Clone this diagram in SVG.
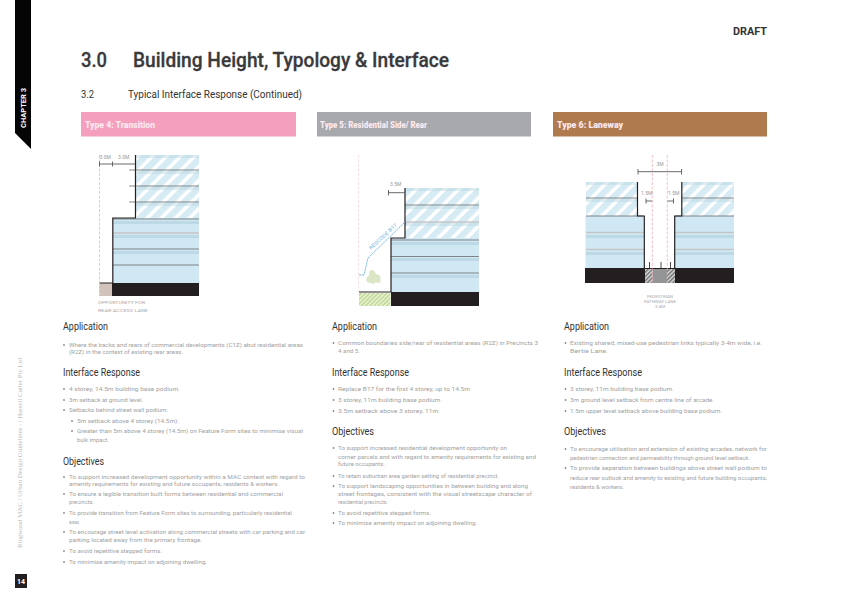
<svg xmlns="http://www.w3.org/2000/svg" width="848" height="600" viewBox="0 0 848 600">
<style>
text{font-family:"Roboto","Liberation Sans",sans-serif}
.b{font-size:5px;fill:#a2a2a2}
.h{font-size:10.5px;fill:#333}
.t{font-size:8.5px;font-weight:900;fill:#fde9f0}
.d{font-size:5px;fill:#999}
.s{font-size:4.4px;fill:#aaa}
.k{fill:none;stroke:#231f20;stroke-width:1.2}
.m{fill:none;stroke:#58595b;stroke-width:.9}
.f{stroke:#77787b;stroke-width:.9;fill:none}
.g{stroke:#c4c5c6;stroke-width:1.6;fill:none}
.p{stroke:#f5a5ad;stroke-width:.7;stroke-dasharray:3 1.5;fill:none}
.u{fill:url(#hatch)}
.l{fill:#cfe8f3}
.a{fill:#bed9e6}
.n{fill:#b9d6e3;opacity:.45}
.x{fill:#231f20}
.o{fill:#888}
</style>
<defs>
<pattern id="hatch" width="10" height="10" patternUnits="userSpaceOnUse" patternTransform="rotate(45)">
<rect width="10" height="10" fill="#fff"/><rect width="6.500" height="10" fill="#d6ebf3"/>
</pattern>
<pattern id="gh" width="3" height="3" patternUnits="userSpaceOnUse" patternTransform="rotate(45)">
<rect width="3" height="3" fill="#eef5dc"/><rect width="1.500" height="3" fill="#bcd58c"/>
</pattern>
<pattern id="dh" width="3" height="3" patternUnits="userSpaceOnUse" patternTransform="rotate(45)">
<rect width="3" height="3" fill="#ddd"/><rect width="1.500" height="3" fill="#6d6e70"/>
</pattern>
</defs>
<rect width="848" height="600" fill="#fff"/>

<g id="chapter-tab">
<polygon points="15,0 31,0 31,149 15,133" fill="#050505"/>
<text transform="translate(26,128) rotate(-90)" font-size="7" font-weight="700" fill="#fff" textLength="40" lengthAdjust="spacingAndGlyphs">CHAPTER 3</text>
</g>
<g id="page-header">
<text x="733" y="35" font-size="11" font-weight="700" fill="#333" textLength="34" lengthAdjust="spacingAndGlyphs">DRAFT</text>
<text x="81" y="66.500" font-size="20.500" font-weight="500" fill="#3a3a3c" stroke="#3a3a3c" stroke-width=".3" textLength="26" lengthAdjust="spacingAndGlyphs">3.0</text>
<text x="133" y="66.500" font-size="20.500" font-weight="500" fill="#3a3a3c" stroke="#3a3a3c" stroke-width=".3" textLength="316" lengthAdjust="spacingAndGlyphs">Building Height, Typology &amp; Interface</text>
<text x="81" y="98" font-size="10" fill="#333" textLength="13" lengthAdjust="spacingAndGlyphs">3.2</text>
<text x="128" y="98" font-size="10" fill="#333" textLength="174" lengthAdjust="spacingAndGlyphs">Typical Interface Response (Continued)</text>
</g>

<g id="type-4-header"><rect x="81" y="112" width="215" height="24.500" fill="#f49fbe"/><text class="t" x="85" y="127.500" textLength="70" lengthAdjust="spacingAndGlyphs">Type 4: Transition</text></g>
<g id="type-5-header"><rect x="317" y="112" width="214" height="24.500" fill="#a7a9ac"/><text class="t" x="320" y="127.500" textLength="107" lengthAdjust="spacingAndGlyphs">Type 5: Residential Side/ Rear</text></g>
<g id="type-6-header"><rect x="553" y="112" width="214" height="24.500" fill="#b07a4f"/><text class="t" x="557" y="127.500" textLength="66" lengthAdjust="spacingAndGlyphs">Type 6: Laneway</text></g>

<g id="section-type-4">
<rect class="u" x="136" y="155" width="63" height="63"/>
<rect class="n" x="136" y="155" width="63" height="3"/><rect class="n" x="136" y="171" width="63" height="3"/><rect class="n" x="136" y="187" width="63" height="3"/><rect class="n" x="136" y="203" width="63" height="3"/>
<rect class="l" x="113" y="218" width="86" height="65"/>
<rect class="a" x="113" y="221" width="86" height="3"/><rect class="a" x="113" y="235" width="86" height="3"/><rect class="a" x="113" y="251" width="86" height="3"/>
<path class="f" d="M129,170H199M129,186H199M129,202H199M113,219H199M113,249H199M113,265H199"/>
<path class="g" d="M113,233H199"/>
<rect x="99.500" y="283" width="13" height="13" fill="#d2c3ba"/>
<rect class="x" x="112" y="283" width="87" height="13"/>
<path class="k" d="M135.500,155V218H112.800V283H99.500"/>
<path class="p" d="M99.500,155V296"/>
<path class="m" d="M99.500,164H135M99.500,161.500V166.500M112.500,161.500V166.500"/>
<text class="d" x="99.500" y="158.500">3.0M</text><text class="d" x="118" y="158.500">3.0M</text>
<text class="s" x="98" y="303.500" textLength="47" lengthAdjust="spacingAndGlyphs">OPPORTUNITY FOR</text><text class="s" x="98" y="311.500" textLength="50" lengthAdjust="spacingAndGlyphs">REAR ACCESS LANE</text>
</g>

<g id="section-type-5">
<rect class="u" x="405" y="188" width="74" height="50"/>
<rect class="n" x="405" y="188" width="74" height="3"/><rect class="n" x="405" y="206" width="74" height="3"/><rect class="n" x="405" y="223" width="74" height="3"/>
<rect class="l" x="391" y="238" width="88" height="54"/>
<rect class="a" x="391" y="242" width="88" height="3"/><rect class="a" x="391" y="258" width="88" height="3"/><rect class="a" x="391" y="275" width="88" height="3"/>
<path class="f" d="M405,205H479M391,240H479M391,256.500H479M391,273H479"/>
<path class="g" d="M405,222H479"/>
<rect x="359" y="293" width="31.500" height="13" fill="url(#gh)"/>
<rect class="x" x="391" y="292" width="88" height="14"/>
<path class="k" d="M405,188V238H391V292H359"/>
<path class="p" d="M358.500,155V292" opacity=".5"/>
<path class="m" d="M388.500,190V195.500M388.500,192.700H405"/>
<text class="d" x="390" y="186">3.5M</text>
<path d="M359,275H364L368,258L405,222" fill="none" stroke="#4a9fd8" stroke-width=".7" stroke-dasharray="2.500 .6"/>
<text transform="translate(371,250) rotate(-43)" font-size="5" fill="#6fb3de" textLength="36" lengthAdjust="spacingAndGlyphs">RESCODE B17</text>
<g fill="#dbe6c6"><circle cx="373" cy="277" r="4.500"/><circle cx="369.500" cy="279.500" r="3.200"/><circle cx="377" cy="278" r="3.500"/><circle cx="372" cy="273" r="3"/><circle cx="378" cy="280.500" r="2.500"/><circle cx="373" cy="281" r="2.800"/></g>
</g>

<g id="section-type-6">
<rect class="u" x="586" y="182" width="51" height="34"/><rect class="u" x="682" y="182" width="52" height="34"/>
<rect class="n" x="586" y="182" width="51" height="3"/><rect class="n" x="682" y="182" width="52" height="3"/><rect class="n" x="586" y="199" width="51" height="3"/><rect class="n" x="682" y="199" width="52" height="3"/>
<rect class="l" x="585.500" y="216" width="58" height="52"/><rect class="l" x="675" y="216" width="59" height="52"/>
<rect class="a" x="586" y="235" width="58" height="3"/><rect class="a" x="675" y="235" width="59" height="3"/><rect class="a" x="586" y="252" width="58" height="3"/><rect class="a" x="675" y="252" width="59" height="3"/>
<path class="f" d="M586,198H637M682,198H734M586,216H643M675,216H734"/>
<path class="g" d="M586,232.500H644M675,232.500H734M586,249.500H644M675,249.500H734"/>
<rect class="x" x="585" y="268" width="149" height="15"/>
<rect x="645" y="269" width="8" height="14" fill="url(#dh)"/><rect x="653" y="269" width="14" height="14" fill="#949597"/><rect x="667" y="269" width="8" height="14" fill="url(#dh)"/>
<path class="k" d="M637.500,182V216H644.300V268M681.800,182V216H674.700V268"/>
<path d="M652.300,155V283M667.300,155V283" class="p"/>
<path class="m" d="M638,171.700H681.500M638,169V174.500M681.500,169V174.500M646,201H652M646,198.500V203.500M667.500,201H673.500M673.500,198.500V203.500"/>
<path d="M649.500,268V262M661,268V262M670.500,268V262" stroke="#333" stroke-width=".9" fill="none"/>
<text class="d" x="660" y="166" text-anchor="middle">3M</text>
<text class="d" x="641" y="195">1.5M</text><text class="d" x="668" y="195">1.5M</text>
<text class="s" x="660" y="297.500" text-anchor="middle">PEDESTRIAN</text><text class="s" x="660" y="302.500" text-anchor="middle">PATHWAY LANE</text><text class="s" x="660" y="308" text-anchor="middle">3-4M</text>
</g>

<g id="column-type-4">
<text class="h" x="63" y="330" textLength="45" lengthAdjust="spacingAndGlyphs">Application</text>
<text class="h" x="63" y="376" textLength="77" lengthAdjust="spacingAndGlyphs">Interface Response</text>
<text class="h" x="63" y="465" textLength="41" lengthAdjust="spacingAndGlyphs">Objectives</text>
<g class="o"><circle cx="64" cy="345" r=".9"/><circle cx="64" cy="389" r=".9"/><circle cx="64" cy="400" r=".9"/><circle cx="64" cy="410" r=".9"/><circle cx="72" cy="421" r=".9"/><circle cx="72" cy="431" r=".9"/><circle cx="64" cy="477" r=".9"/><circle cx="64" cy="494" r=".9"/><circle cx="64" cy="513" r=".9"/><circle cx="64" cy="532" r=".9"/><circle cx="64" cy="551" r=".9"/><circle cx="64" cy="562" r=".9"/></g>
<text class="b" x="69" y="346.500" textLength="234" lengthAdjust="spacingAndGlyphs">Where the backs and rears of commercial developments (C1Z) abut residential areas</text>
<text class="b" x="69" y="354" textLength="114" lengthAdjust="spacingAndGlyphs">(R2Z) in the context of existing rear areas.</text>
<text class="b" x="69" y="391" textLength="111" lengthAdjust="spacingAndGlyphs">4 storey, 14.5m building base podium.</text>
<text class="b" x="69" y="402" textLength="74" lengthAdjust="spacingAndGlyphs">3m setback at ground level.</text>
<text class="b" x="69" y="412" textLength="99" lengthAdjust="spacingAndGlyphs">Setbacks behind street wall podium:</text>
<text class="b" x="77" y="423" textLength="102" lengthAdjust="spacingAndGlyphs">5m setback above 4 storey (14.5m).</text>
<text class="b" x="77" y="433" textLength="226" lengthAdjust="spacingAndGlyphs">Greater than 5m above 4 storey (14.5m) on Feature Form sites to minimise visual</text>
<text class="b" x="77" y="441.500" textLength="32" lengthAdjust="spacingAndGlyphs">bulk impact.</text>
<text class="b" x="69" y="479" textLength="236" lengthAdjust="spacingAndGlyphs">To support increased development opportunity within a MAC context with regard to</text>
<text class="b" x="69" y="486" textLength="210" lengthAdjust="spacingAndGlyphs">amenity requirements for existing and future occupants, residents &amp; workers.</text>
<text class="b" x="69" y="496" textLength="214" lengthAdjust="spacingAndGlyphs">To ensure a legible transition built forms between residential and commercial</text>
<text class="b" x="69" y="504" textLength="25" lengthAdjust="spacingAndGlyphs">precincts.</text>
<text class="b" x="69" y="515" textLength="223" lengthAdjust="spacingAndGlyphs">To provide transition from Feature Form sites to surrounding, particularly residential</text>
<text class="b" x="69" y="524" textLength="11" lengthAdjust="spacingAndGlyphs">areas.</text>
<text class="b" x="69" y="534" textLength="236" lengthAdjust="spacingAndGlyphs">To encourage street level activation along commercial streets with car parking and car</text>
<text class="b" x="69" y="542" textLength="133" lengthAdjust="spacingAndGlyphs">parking located away from the primary frontage.</text>
<text class="b" x="69" y="553" textLength="93" lengthAdjust="spacingAndGlyphs">To avoid repetitive stepped forms.</text>
<text class="b" x="69" y="564" textLength="138" lengthAdjust="spacingAndGlyphs">To minimise amenity impact on adjoining dwelling.</text>
</g>

<g id="column-type-5">
<text class="h" x="332" y="330" textLength="45" lengthAdjust="spacingAndGlyphs">Application</text>
<text class="h" x="332" y="376" textLength="77" lengthAdjust="spacingAndGlyphs">Interface Response</text>
<text class="h" x="332" y="435" textLength="42" lengthAdjust="spacingAndGlyphs">Objectives</text>
<g class="o"><circle cx="333.500" cy="343" r=".9"/><circle cx="333.500" cy="389" r=".9"/><circle cx="333.500" cy="400" r=".9"/><circle cx="333.500" cy="411" r=".9"/><circle cx="333.500" cy="448" r=".9"/><circle cx="333.500" cy="476" r=".9"/><circle cx="333.500" cy="486" r=".9"/><circle cx="333.500" cy="513" r=".9"/><circle cx="333.500" cy="523" r=".9"/></g>
<text class="b" x="338" y="345" textLength="200" lengthAdjust="spacingAndGlyphs">Common boundaries side/rear of residential areas (R2Z) in Precincts 3</text>
<text class="b" x="338" y="353" textLength="22" lengthAdjust="spacingAndGlyphs">4 and 5.</text>
<text class="b" x="338" y="391" textLength="132" lengthAdjust="spacingAndGlyphs">Replace B17 for the first 4 storey, up to 14.5m</text>
<text class="b" x="338" y="402" textLength="104" lengthAdjust="spacingAndGlyphs">3 storey, 11m building base podium.</text>
<text class="b" x="338" y="413" textLength="102" lengthAdjust="spacingAndGlyphs">3.5m setback above 3 storey, 11m.</text>
<text class="b" x="338" y="450" textLength="169" lengthAdjust="spacingAndGlyphs">To support increased residential development opportunity on</text>
<text class="b" x="338" y="459" textLength="198" lengthAdjust="spacingAndGlyphs">corner parcels and with regard to amenity requirements for existing and</text>
<text class="b" x="338" y="466" textLength="47" lengthAdjust="spacingAndGlyphs">future occupants.</text>
<text class="b" x="338" y="478" textLength="161" lengthAdjust="spacingAndGlyphs">To retain suburban area garden setting of residential precinct.</text>
<text class="b" x="338" y="488" textLength="190" lengthAdjust="spacingAndGlyphs">To support landscaping opportunities in between building and along</text>
<text class="b" x="338" y="496" textLength="194" lengthAdjust="spacingAndGlyphs">street frontages, consistent with the visual streetscape character of</text>
<text class="b" x="338" y="504" textLength="50" lengthAdjust="spacingAndGlyphs">residential precincts.</text>
<text class="b" x="338" y="515" textLength="93" lengthAdjust="spacingAndGlyphs">To avoid repetitive stepped forms.</text>
<text class="b" x="338" y="525" textLength="139" lengthAdjust="spacingAndGlyphs">To minimise amenity impact on adjoining dwelling.</text>
</g>

<g id="column-type-6">
<text class="h" x="564" y="330" textLength="45" lengthAdjust="spacingAndGlyphs">Application</text>
<text class="h" x="564" y="376" textLength="78" lengthAdjust="spacingAndGlyphs">Interface Response</text>
<text class="h" x="564" y="435" textLength="42" lengthAdjust="spacingAndGlyphs">Objectives</text>
<g class="o"><circle cx="565.500" cy="343" r=".9"/><circle cx="565.500" cy="389" r=".9"/><circle cx="565.500" cy="400" r=".9"/><circle cx="565.500" cy="411" r=".9"/><circle cx="565.500" cy="449" r=".9"/><circle cx="565.500" cy="468" r=".9"/></g>
<text class="b" x="570" y="345" textLength="192" lengthAdjust="spacingAndGlyphs">Existing shared, mixed-use pedestrian links typically 3-4m wide, i.e.</text>
<text class="b" x="570" y="353" textLength="38" lengthAdjust="spacingAndGlyphs">Bertie Lane.</text>
<text class="b" x="570" y="391" textLength="104" lengthAdjust="spacingAndGlyphs">3 storey, 11m building base podium.</text>
<text class="b" x="570" y="402" textLength="144" lengthAdjust="spacingAndGlyphs">3m ground level setback from centre line of arcade.</text>
<text class="b" x="570" y="413" textLength="152" lengthAdjust="spacingAndGlyphs">1.5m upper level setback above building base podium.</text>
<text class="b" x="570" y="451" textLength="197" lengthAdjust="spacingAndGlyphs">To encourage utilisation and extension of existing arcades, network for</text>
<text class="b" x="570" y="460" textLength="180" lengthAdjust="spacingAndGlyphs">pedestrian connection and permeability through ground level setback.</text>
<text class="b" x="570" y="470" textLength="197" lengthAdjust="spacingAndGlyphs">To provide separation between buildings above street wall podium to</text>
<text class="b" x="570" y="480" textLength="197" lengthAdjust="spacingAndGlyphs">reduce rear outlook and amenity to existing and future building occupants,</text>
<text class="b" x="570" y="489" textLength="54" lengthAdjust="spacingAndGlyphs">residents &amp; workers.</text>
</g>

<g id="sidebar">
<text transform="translate(22,548) rotate(-90)" font-size="5.500" fill="#bbb" style="font-family:'Liberation Serif',serif" textLength="190" lengthAdjust="spacingAndGlyphs">Ringwood MAC / Urban Design Guidelines  -  |  Hassell Cutler Pty Ltd</text>
</g>
<g id="page-number">
<rect x="15" y="574" width="12" height="14" fill="#231f20"/>
<text x="21" y="584" font-size="7" font-weight="700" fill="#fff" text-anchor="middle">14</text>
</g>
</svg>
